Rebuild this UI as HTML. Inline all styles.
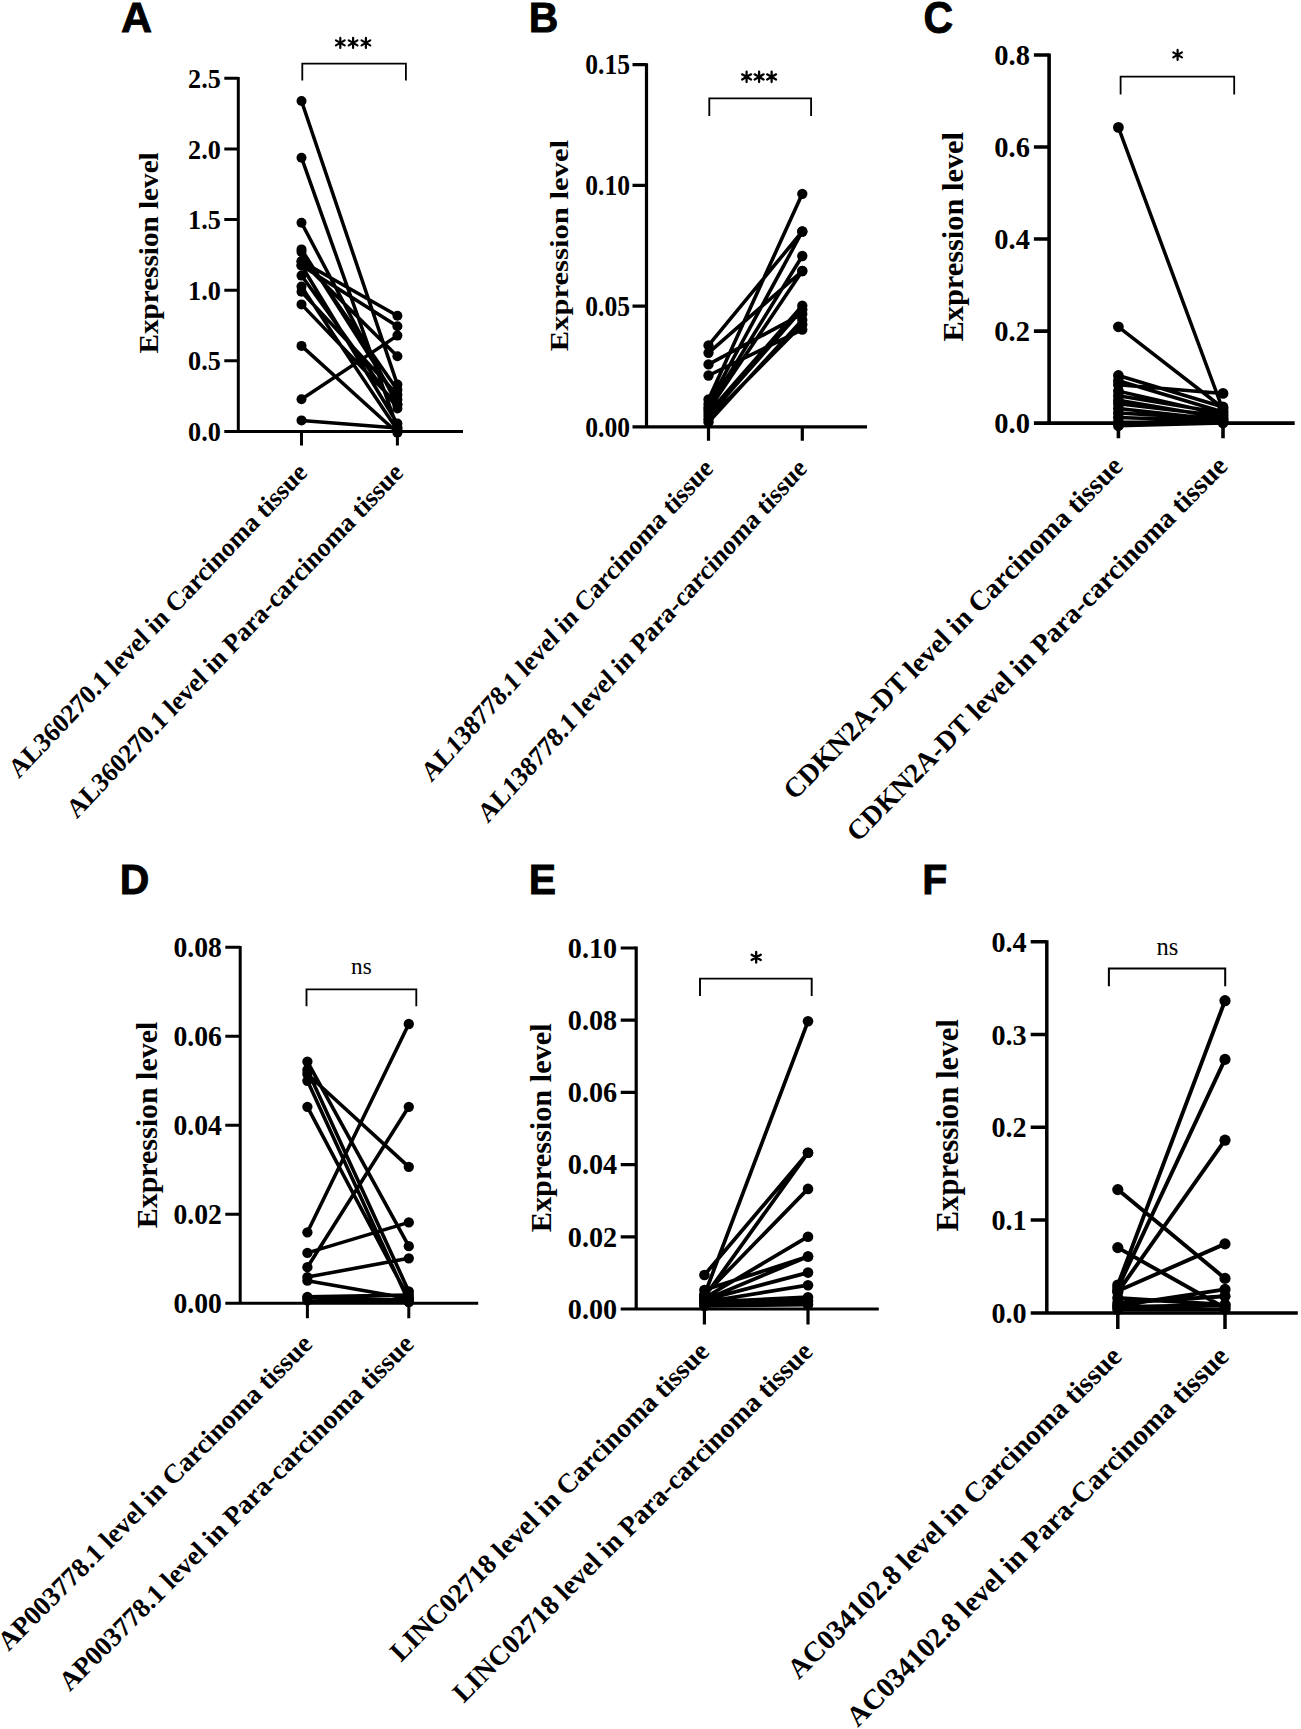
<!DOCTYPE html>
<html><head><meta charset="utf-8"><title>Expression level figure</title>
<style>html,body{margin:0;padding:0;background:#fff;}body{width:1301px;height:1729px;overflow:hidden;}svg{display:block;}</style>
</head><body><svg width="1301" height="1729" viewBox="0 0 1301 1729"><g><text transform="translate(121.00 31.50) scale(1.0500 1.0300)" font-family='"Liberation Sans", sans-serif' font-weight="bold" font-size="41" stroke="#000" stroke-width="0.8">A</text><path d="M238.3 77.00V431.5M224.3 431.5H463" stroke="#000" stroke-width="3.0" fill="none"/><text transform="translate(220.80 431.50) scale(1.0000 1.0800)" y="8.91" text-anchor="end" font-family='"Liberation Serif", serif' font-weight="bold" font-size="26.2" stroke="#000" stroke-width="0.0">0.0</text><text transform="translate(220.80 360.86) scale(1.0000 1.0800)" y="8.91" text-anchor="end" font-family='"Liberation Serif", serif' font-weight="bold" font-size="26.2" stroke="#000" stroke-width="0.0">0.5</text><text transform="translate(220.80 290.22) scale(1.0000 1.0800)" y="8.91" text-anchor="end" font-family='"Liberation Serif", serif' font-weight="bold" font-size="26.2" stroke="#000" stroke-width="0.0">1.0</text><text transform="translate(220.80 219.58) scale(1.0000 1.0800)" y="8.91" text-anchor="end" font-family='"Liberation Serif", serif' font-weight="bold" font-size="26.2" stroke="#000" stroke-width="0.0">1.5</text><text transform="translate(220.80 148.94) scale(1.0000 1.0800)" y="8.91" text-anchor="end" font-family='"Liberation Serif", serif' font-weight="bold" font-size="26.2" stroke="#000" stroke-width="0.0">2.0</text><text transform="translate(220.80 78.30) scale(1.0000 1.0800)" y="8.91" text-anchor="end" font-family='"Liberation Serif", serif' font-weight="bold" font-size="26.2" stroke="#000" stroke-width="0.0">2.5</text><path d="M224.3 360.86H238.3M224.3 290.22H238.3M224.3 219.58H238.3M224.3 148.94H238.3M224.3 78.30H238.3M301.5 431.5V445.5M397.4 431.5V445.5" stroke="#000" stroke-width="3.0" fill="none"/><text transform="translate(149.30 252.90) scale(1.0000 1.0930) rotate(-90)" y="8.81" text-anchor="middle" font-family='"Liberation Serif", serif' font-weight="bold" font-size="26.7" stroke="#000" stroke-width="0.0">Expression level</text><path d="M302.3 80.6V63.7H405.9V80.6" stroke="#000" stroke-width="1.80" fill="none"/><path d="M340.30 37.90L340.30 47.90M335.97 40.40L344.63 45.40M344.63 40.40L335.97 45.40" stroke="#000" stroke-width="2.2" stroke-linecap="round" fill="none"/><path d="M353.10 37.90L353.10 47.90M348.77 40.40L357.43 45.40M357.43 40.40L348.77 45.40" stroke="#000" stroke-width="2.2" stroke-linecap="round" fill="none"/><path d="M365.90 37.90L365.90 47.90M361.57 40.40L370.23 45.40M370.23 40.40L361.57 45.40" stroke="#000" stroke-width="2.2" stroke-linecap="round" fill="none"/><path d="M301.5 101.0L397.4 384.6M301.5 157.7L397.4 427.9M301.5 222.7L397.4 404.5M301.5 249.4L397.4 399.6M301.5 252L397.4 389.9M301.5 261.3L397.4 356.3M301.5 261.3L397.4 315.8M301.5 265.5L397.4 326.3M301.5 265.5L397.4 423.5M301.5 275.6L397.4 408.5M301.5 286.6L397.4 430M301.5 291.7L397.4 394.7M301.5 304.4L397.4 404.5M301.5 345.9L397.4 432.8M301.5 399.2L397.4 335.6M301.5 420.4L397.4 427.9" stroke="#000" stroke-width="3.50" fill="none"/><g fill="#000"><circle cx="301.5" cy="101.0" r="5.00"/><circle cx="397.4" cy="384.6" r="5.00"/><circle cx="301.5" cy="157.7" r="5.00"/><circle cx="397.4" cy="427.9" r="5.00"/><circle cx="301.5" cy="222.7" r="5.00"/><circle cx="397.4" cy="404.5" r="5.00"/><circle cx="301.5" cy="249.4" r="5.00"/><circle cx="397.4" cy="399.6" r="5.00"/><circle cx="301.5" cy="252" r="5.00"/><circle cx="397.4" cy="389.9" r="5.00"/><circle cx="301.5" cy="261.3" r="5.00"/><circle cx="397.4" cy="356.3" r="5.00"/><circle cx="301.5" cy="261.3" r="5.00"/><circle cx="397.4" cy="315.8" r="5.00"/><circle cx="301.5" cy="265.5" r="5.00"/><circle cx="397.4" cy="326.3" r="5.00"/><circle cx="301.5" cy="265.5" r="5.00"/><circle cx="397.4" cy="423.5" r="5.00"/><circle cx="301.5" cy="275.6" r="5.00"/><circle cx="397.4" cy="408.5" r="5.00"/><circle cx="301.5" cy="286.6" r="5.00"/><circle cx="397.4" cy="430" r="5.00"/><circle cx="301.5" cy="291.7" r="5.00"/><circle cx="397.4" cy="394.7" r="5.00"/><circle cx="301.5" cy="304.4" r="5.00"/><circle cx="397.4" cy="404.5" r="5.00"/><circle cx="301.5" cy="345.9" r="5.00"/><circle cx="397.4" cy="432.8" r="5.00"/><circle cx="301.5" cy="399.2" r="5.00"/><circle cx="397.4" cy="335.6" r="5.00"/><circle cx="301.5" cy="420.4" r="5.00"/><circle cx="397.4" cy="427.9" r="5.00"/></g><text transform="translate(308.60 474.00) scale(1.0090 1.0630) rotate(-45)" text-anchor="end" font-family='"Liberation Serif", serif' font-weight="bold" font-size="25.3" fill="#000" stroke="#000" stroke-width="0.0">AL360270.1 level in Carcinoma tissue</text><text transform="translate(404.50 474.00) scale(1.0090 1.0630) rotate(-45)" text-anchor="end" font-family='"Liberation Serif", serif' font-weight="bold" font-size="25.3" fill="#000" stroke="#000" stroke-width="0.0">AL360270.1 level in Para-carcinoma tissue</text></g><g><text transform="translate(528.80 32.00) scale(1.0000 1.0300)" font-family='"Liberation Sans", sans-serif' font-weight="bold" font-size="41" stroke="#000" stroke-width="0.8">B</text><path d="M646.5 63.20V426.8M632.5 426.8H867.0" stroke="#000" stroke-width="3.2" fill="none"/><text transform="translate(630.00 426.80) scale(0.9770 1.1070)" y="8.91" text-anchor="end" font-family='"Liberation Serif", serif' font-weight="bold" font-size="26.2" stroke="#000" stroke-width="0.0">0.00</text><text transform="translate(630.00 306.07) scale(0.9770 1.1070)" y="8.91" text-anchor="end" font-family='"Liberation Serif", serif' font-weight="bold" font-size="26.2" stroke="#000" stroke-width="0.0">0.05</text><text transform="translate(630.00 185.33) scale(0.9770 1.1070)" y="8.91" text-anchor="end" font-family='"Liberation Serif", serif' font-weight="bold" font-size="26.2" stroke="#000" stroke-width="0.0">0.10</text><text transform="translate(630.00 64.60) scale(0.9770 1.1070)" y="8.91" text-anchor="end" font-family='"Liberation Serif", serif' font-weight="bold" font-size="26.2" stroke="#000" stroke-width="0.0">0.15</text><path d="M632.5 306.07H646.5M632.5 185.33H646.5M632.5 64.60H646.5M708.5 426.8V440.8M802.3 426.8V440.8" stroke="#000" stroke-width="3.2" fill="none"/><text transform="translate(559.20 245.65) scale(0.9770 1.1480) rotate(-90)" y="8.81" text-anchor="middle" font-family='"Liberation Serif", serif' font-weight="bold" font-size="26.7" stroke="#000" stroke-width="0.0">Expression level</text><path d="M709.3 116.0V98.3H811.1V116.0" stroke="#000" stroke-width="1.85" fill="none"/><path d="M746.59 71.75L746.59 82.05M742.13 74.33L751.05 79.48M751.05 74.33L742.13 79.48" stroke="#000" stroke-width="2.2660000000000005" stroke-linecap="round" fill="none"/><path d="M759.10 71.75L759.10 82.05M754.64 74.33L763.56 79.48M763.56 74.33L754.64 79.48" stroke="#000" stroke-width="2.2660000000000005" stroke-linecap="round" fill="none"/><path d="M771.61 71.75L771.61 82.05M767.15 74.33L776.07 79.48M776.07 74.33L767.15 79.48" stroke="#000" stroke-width="2.2660000000000005" stroke-linecap="round" fill="none"/><path d="M708.5 345.4L802.3 231.5M708.5 352.8L802.3 271.0M708.5 364.4L802.3 313.9M708.5 375.5L802.3 329.7M708.5 399.5L802.3 193.8M708.5 404L802.3 231.5M708.5 407.5L802.3 256.0M708.5 410L802.3 271.0M708.5 413L802.3 305.6M708.5 416.1L802.3 309.4M708.5 419.2L802.3 324.4M708.5 422.2L802.3 319.9" stroke="#000" stroke-width="3.60" fill="none"/><g fill="#000"><circle cx="708.5" cy="345.4" r="5.15"/><circle cx="802.3" cy="231.5" r="5.15"/><circle cx="708.5" cy="352.8" r="5.15"/><circle cx="802.3" cy="271.0" r="5.15"/><circle cx="708.5" cy="364.4" r="5.15"/><circle cx="802.3" cy="313.9" r="5.15"/><circle cx="708.5" cy="375.5" r="5.15"/><circle cx="802.3" cy="329.7" r="5.15"/><circle cx="708.5" cy="399.5" r="5.15"/><circle cx="802.3" cy="193.8" r="5.15"/><circle cx="708.5" cy="404" r="5.15"/><circle cx="802.3" cy="231.5" r="5.15"/><circle cx="708.5" cy="407.5" r="5.15"/><circle cx="802.3" cy="256.0" r="5.15"/><circle cx="708.5" cy="410" r="5.15"/><circle cx="802.3" cy="271.0" r="5.15"/><circle cx="708.5" cy="413" r="5.15"/><circle cx="802.3" cy="305.6" r="5.15"/><circle cx="708.5" cy="416.1" r="5.15"/><circle cx="802.3" cy="309.4" r="5.15"/><circle cx="708.5" cy="419.2" r="5.15"/><circle cx="802.3" cy="324.4" r="5.15"/><circle cx="708.5" cy="422.2" r="5.15"/><circle cx="802.3" cy="319.9" r="5.15"/></g><text transform="translate(714.40 469.80) scale(0.9860 1.0900) rotate(-45)" text-anchor="end" font-family='"Liberation Serif", serif' font-weight="bold" font-size="25.3" fill="#000" stroke="#000" stroke-width="0.0">AL138778.1 level in Carcinoma tissue</text><text transform="translate(808.20 469.80) scale(0.9860 1.0900) rotate(-45)" text-anchor="end" font-family='"Liberation Serif", serif' font-weight="bold" font-size="25.3" fill="#000" stroke="#000" stroke-width="0.0">AL138778.1 level in Para-carcinoma tissue</text></g><g><text transform="translate(923.60 32.80) scale(1.0000 1.0800)" font-family='"Liberation Sans", sans-serif' font-weight="bold" font-size="41" stroke="#000" stroke-width="0.8">C</text><path d="M1049.1 53.40V423.1M1033.8999999999999 423.1H1294.7" stroke="#000" stroke-width="3.6" fill="none"/><text transform="translate(1029.90 423.10) scale(1.0880 1.1275)" y="8.91" text-anchor="end" font-family='"Liberation Serif", serif' font-weight="bold" font-size="26.2" stroke="#000" stroke-width="0.0">0.0</text><text transform="translate(1029.90 331.08) scale(1.0880 1.1275)" y="8.91" text-anchor="end" font-family='"Liberation Serif", serif' font-weight="bold" font-size="26.2" stroke="#000" stroke-width="0.0">0.2</text><text transform="translate(1029.90 239.05) scale(1.0880 1.1275)" y="8.91" text-anchor="end" font-family='"Liberation Serif", serif' font-weight="bold" font-size="26.2" stroke="#000" stroke-width="0.0">0.4</text><text transform="translate(1029.90 147.02) scale(1.0880 1.1275)" y="8.91" text-anchor="end" font-family='"Liberation Serif", serif' font-weight="bold" font-size="26.2" stroke="#000" stroke-width="0.0">0.6</text><text transform="translate(1029.90 55.00) scale(1.0880 1.1275)" y="8.91" text-anchor="end" font-family='"Liberation Serif", serif' font-weight="bold" font-size="26.2" stroke="#000" stroke-width="0.0">0.8</text><path d="M1033.8999999999999 331.08H1049.1M1033.8999999999999 239.05H1049.1M1033.8999999999999 147.02H1049.1M1033.8999999999999 55.00H1049.1M1118.4 423.1V438.3M1223.0 423.1V438.3" stroke="#000" stroke-width="3.6" fill="none"/><text transform="translate(953.00 236.80) scale(1.0880 1.1380) rotate(-90)" y="8.81" text-anchor="middle" font-family='"Liberation Serif", serif' font-weight="bold" font-size="26.7" stroke="#000" stroke-width="0.0">Expression level</text><path d="M1120.6 94.6V76.7H1234.2V94.6" stroke="#000" stroke-width="1.80" fill="none"/><path d="M1177.60 49.90L1177.60 59.90M1173.27 52.40L1181.93 57.40M1181.93 52.40L1173.27 57.40" stroke="#000" stroke-width="2.2" stroke-linecap="round" fill="none"/><path d="M1118.4 127.4L1223.0 410M1118.4 326.8L1223.0 408M1118.4 375.5L1223.0 407M1118.4 384.7L1223.0 393.4M1118.4 380.7L1223.0 412M1118.4 391.1L1223.0 415M1118.4 395.7L1223.0 413M1118.4 400.3L1223.0 418M1118.4 403.8L1223.0 416M1118.4 408.4L1223.0 420M1118.4 413L1223.0 419M1118.4 417.6L1223.0 421M1118.4 422.2L1223.0 422M1118.4 425.7L1223.0 423" stroke="#000" stroke-width="3.50" fill="none"/><g fill="#000"><circle cx="1118.4" cy="127.4" r="5.40"/><circle cx="1223.0" cy="410" r="5.40"/><circle cx="1118.4" cy="326.8" r="5.40"/><circle cx="1223.0" cy="408" r="5.40"/><circle cx="1118.4" cy="375.5" r="5.40"/><circle cx="1223.0" cy="407" r="5.40"/><circle cx="1118.4" cy="384.7" r="5.40"/><circle cx="1223.0" cy="393.4" r="5.40"/><circle cx="1118.4" cy="380.7" r="5.40"/><circle cx="1223.0" cy="412" r="5.40"/><circle cx="1118.4" cy="391.1" r="5.40"/><circle cx="1223.0" cy="415" r="5.40"/><circle cx="1118.4" cy="395.7" r="5.40"/><circle cx="1223.0" cy="413" r="5.40"/><circle cx="1118.4" cy="400.3" r="5.40"/><circle cx="1223.0" cy="418" r="5.40"/><circle cx="1118.4" cy="403.8" r="5.40"/><circle cx="1223.0" cy="416" r="5.40"/><circle cx="1118.4" cy="408.4" r="5.40"/><circle cx="1223.0" cy="420" r="5.40"/><circle cx="1118.4" cy="413" r="5.40"/><circle cx="1223.0" cy="419" r="5.40"/><circle cx="1118.4" cy="417.6" r="5.40"/><circle cx="1223.0" cy="421" r="5.40"/><circle cx="1118.4" cy="422.2" r="5.40"/><circle cx="1223.0" cy="422" r="5.40"/><circle cx="1118.4" cy="425.7" r="5.40"/><circle cx="1223.0" cy="423" r="5.40"/></g><text transform="translate(1124.30 467.60) scale(1.0980 1.1100) rotate(-45)" text-anchor="end" font-family='"Liberation Serif", serif' font-weight="bold" font-size="25.3" fill="#000" stroke="#000" stroke-width="0.0">CDKN2A-DT level in Carcinoma tissue</text><text transform="translate(1228.90 467.60) scale(1.0980 1.1100) rotate(-45)" text-anchor="end" font-family='"Liberation Serif", serif' font-weight="bold" font-size="25.3" fill="#000" stroke="#000" stroke-width="0.0">CDKN2A-DT level in Para-carcinoma tissue</text></g><g><text transform="translate(119.80 894.30) scale(1.0000 1.0300)" font-family='"Liberation Sans", sans-serif' font-weight="bold" font-size="41" stroke="#000" stroke-width="0.8">D</text><path d="M240.2 946.00V1303.3M225.29999999999998 1303.3H478.2" stroke="#000" stroke-width="3.0" fill="none"/><text transform="translate(221.80 1303.30) scale(1.0560 1.0876)" y="8.91" text-anchor="end" font-family='"Liberation Serif", serif' font-weight="bold" font-size="26.2" stroke="#000" stroke-width="0.0">0.00</text><text transform="translate(221.80 1214.30) scale(1.0560 1.0876)" y="8.91" text-anchor="end" font-family='"Liberation Serif", serif' font-weight="bold" font-size="26.2" stroke="#000" stroke-width="0.0">0.02</text><text transform="translate(221.80 1125.30) scale(1.0560 1.0876)" y="8.91" text-anchor="end" font-family='"Liberation Serif", serif' font-weight="bold" font-size="26.2" stroke="#000" stroke-width="0.0">0.04</text><text transform="translate(221.80 1036.30) scale(1.0560 1.0876)" y="8.91" text-anchor="end" font-family='"Liberation Serif", serif' font-weight="bold" font-size="26.2" stroke="#000" stroke-width="0.0">0.06</text><text transform="translate(221.80 947.30) scale(1.0560 1.0876)" y="8.91" text-anchor="end" font-family='"Liberation Serif", serif' font-weight="bold" font-size="26.2" stroke="#000" stroke-width="0.0">0.08</text><path d="M225.29999999999998 1214.30H240.2M225.29999999999998 1125.30H240.2M225.29999999999998 1036.30H240.2M225.29999999999998 947.30H240.2M307.4 1303.3V1318.2M408.8 1303.3V1318.2" stroke="#000" stroke-width="3.0" fill="none"/><text transform="translate(147.00 1125.00) scale(1.1150 1.1220) rotate(-90)" y="8.81" text-anchor="middle" font-family='"Liberation Serif", serif' font-weight="bold" font-size="26.7" stroke="#000" stroke-width="0.0">Expression level</text><path d="M306.5 1006.3V989.3H416.3V1006.3" stroke="#000" stroke-width="1.85" fill="none"/><text transform="translate(361.40 974.00) scale(1.0560 1.0876)" text-anchor="middle" font-family='"Liberation Serif", serif' font-size="22">ns</text><path d="M307.4 1061.6L408.8 1246.2M307.4 1070L408.8 1291.4M307.4 1074L408.8 1166.8M307.4 1080.8L408.8 1301.8M307.4 1106.8L408.8 1298.6M307.4 1232.3L408.8 1024.0M307.4 1252.9L408.8 1222.4M307.4 1267.2L408.8 1106.8M307.4 1277.1L408.8 1258.3M307.4 1280.7L408.8 1298.6M307.4 1296.8L408.8 1295M307.4 1300.4L408.8 1302M307.4 1298L408.8 1300" stroke="#000" stroke-width="3.60" fill="none"/><g fill="#000"><circle cx="307.4" cy="1061.6" r="5.15"/><circle cx="408.8" cy="1246.2" r="5.15"/><circle cx="307.4" cy="1070" r="5.15"/><circle cx="408.8" cy="1291.4" r="5.15"/><circle cx="307.4" cy="1074" r="5.15"/><circle cx="408.8" cy="1166.8" r="5.15"/><circle cx="307.4" cy="1080.8" r="5.15"/><circle cx="408.8" cy="1301.8" r="5.15"/><circle cx="307.4" cy="1106.8" r="5.15"/><circle cx="408.8" cy="1298.6" r="5.15"/><circle cx="307.4" cy="1232.3" r="5.15"/><circle cx="408.8" cy="1024.0" r="5.15"/><circle cx="307.4" cy="1252.9" r="5.15"/><circle cx="408.8" cy="1222.4" r="5.15"/><circle cx="307.4" cy="1267.2" r="5.15"/><circle cx="408.8" cy="1106.8" r="5.15"/><circle cx="307.4" cy="1277.1" r="5.15"/><circle cx="408.8" cy="1258.3" r="5.15"/><circle cx="307.4" cy="1280.7" r="5.15"/><circle cx="408.8" cy="1298.6" r="5.15"/><circle cx="307.4" cy="1296.8" r="5.15"/><circle cx="408.8" cy="1295" r="5.15"/><circle cx="307.4" cy="1300.4" r="5.15"/><circle cx="408.8" cy="1302" r="5.15"/><circle cx="307.4" cy="1298" r="5.15"/><circle cx="408.8" cy="1300" r="5.15"/></g><text transform="translate(313.80 1345.60) scale(1.0660 1.0700) rotate(-45)" text-anchor="end" font-family='"Liberation Serif", serif' font-weight="bold" font-size="25.3" fill="#000" stroke="#000" stroke-width="0.0">AP003778.1 level in Carcinoma tissue</text><text transform="translate(415.20 1345.60) scale(1.0660 1.0700) rotate(-45)" text-anchor="end" font-family='"Liberation Serif", serif' font-weight="bold" font-size="25.3" fill="#000" stroke="#000" stroke-width="0.0">AP003778.1 level in Para-carcinoma tissue</text></g><g><text transform="translate(528.70 894.30) scale(1.0000 1.0300)" font-family='"Liberation Sans", sans-serif' font-weight="bold" font-size="41" stroke="#000" stroke-width="0.8">E</text><path d="M636.2 946.60V1309.0M620.7 1309.0H878.8" stroke="#000" stroke-width="3.2" fill="none"/><text transform="translate(617.20 1309.00) scale(1.0770 1.1059)" y="8.91" text-anchor="end" font-family='"Liberation Serif", serif' font-weight="bold" font-size="26.2" stroke="#000" stroke-width="0.0">0.00</text><text transform="translate(617.20 1236.80) scale(1.0770 1.1059)" y="8.91" text-anchor="end" font-family='"Liberation Serif", serif' font-weight="bold" font-size="26.2" stroke="#000" stroke-width="0.0">0.02</text><text transform="translate(617.20 1164.60) scale(1.0770 1.1059)" y="8.91" text-anchor="end" font-family='"Liberation Serif", serif' font-weight="bold" font-size="26.2" stroke="#000" stroke-width="0.0">0.04</text><text transform="translate(617.20 1092.40) scale(1.0770 1.1059)" y="8.91" text-anchor="end" font-family='"Liberation Serif", serif' font-weight="bold" font-size="26.2" stroke="#000" stroke-width="0.0">0.06</text><text transform="translate(617.20 1020.20) scale(1.0770 1.1059)" y="8.91" text-anchor="end" font-family='"Liberation Serif", serif' font-weight="bold" font-size="26.2" stroke="#000" stroke-width="0.0">0.08</text><text transform="translate(617.20 948.00) scale(1.0770 1.1059)" y="8.91" text-anchor="end" font-family='"Liberation Serif", serif' font-weight="bold" font-size="26.2" stroke="#000" stroke-width="0.0">0.10</text><path d="M620.7 1236.80H636.2M620.7 1164.60H636.2M620.7 1092.40H636.2M620.7 1020.20H636.2M620.7 948.00H636.2M704.4 1309.0V1324.5M808.0 1309.0V1324.5" stroke="#000" stroke-width="3.2" fill="none"/><text transform="translate(540.90 1127.85) scale(1.1090 1.1340) rotate(-90)" y="8.81" text-anchor="middle" font-family='"Liberation Serif", serif' font-weight="bold" font-size="26.7" stroke="#000" stroke-width="0.0">Expression level</text><path d="M700.0 996.0V978.6H811.7V996.0" stroke="#000" stroke-width="1.91" fill="none"/><path d="M756.20 952.00L756.20 962.60M751.61 954.65L760.79 959.95M760.79 954.65L751.61 959.95" stroke="#000" stroke-width="2.3320000000000003" stroke-linecap="round" fill="none"/><path d="M704.4 1275.0L808.0 1152.8M704.4 1295L808.0 1021.3M704.4 1297L808.0 1152.8M704.4 1295L808.0 1188.9M704.4 1298L808.0 1236.7M704.4 1290L808.0 1256.5M704.4 1300L808.0 1256.5M704.4 1300L808.0 1272.6M704.4 1302L808.0 1285.2M704.4 1302L808.0 1297.2M704.4 1305L808.0 1300.9M704.4 1306L808.0 1304.6" stroke="#000" stroke-width="3.71" fill="none"/><g fill="#000"><circle cx="704.4" cy="1275.0" r="5.30"/><circle cx="808.0" cy="1152.8" r="5.30"/><circle cx="704.4" cy="1295" r="5.30"/><circle cx="808.0" cy="1021.3" r="5.30"/><circle cx="704.4" cy="1297" r="5.30"/><circle cx="808.0" cy="1152.8" r="5.30"/><circle cx="704.4" cy="1295" r="5.30"/><circle cx="808.0" cy="1188.9" r="5.30"/><circle cx="704.4" cy="1298" r="5.30"/><circle cx="808.0" cy="1236.7" r="5.30"/><circle cx="704.4" cy="1290" r="5.30"/><circle cx="808.0" cy="1256.5" r="5.30"/><circle cx="704.4" cy="1300" r="5.30"/><circle cx="808.0" cy="1256.5" r="5.30"/><circle cx="704.4" cy="1300" r="5.30"/><circle cx="808.0" cy="1272.6" r="5.30"/><circle cx="704.4" cy="1302" r="5.30"/><circle cx="808.0" cy="1285.2" r="5.30"/><circle cx="704.4" cy="1302" r="5.30"/><circle cx="808.0" cy="1297.2" r="5.30"/><circle cx="704.4" cy="1305" r="5.30"/><circle cx="808.0" cy="1300.9" r="5.30"/><circle cx="704.4" cy="1306" r="5.30"/><circle cx="808.0" cy="1304.6" r="5.30"/></g><text transform="translate(710.60 1353.00) scale(1.0870 1.0880) rotate(-45)" text-anchor="end" font-family='"Liberation Serif", serif' font-weight="bold" font-size="25.3" fill="#000" stroke="#000" stroke-width="0.0">LINC02718 level in Carcinoma tissue</text><text transform="translate(814.20 1353.00) scale(1.0870 1.0880) rotate(-45)" text-anchor="end" font-family='"Liberation Serif", serif' font-weight="bold" font-size="25.3" fill="#000" stroke="#000" stroke-width="0.0">LINC02718 level in Para-carcinoma tissue</text></g><g><text transform="translate(922.30 894.30) scale(1.0000 1.0300)" font-family='"Liberation Sans", sans-serif' font-weight="bold" font-size="41" stroke="#000" stroke-width="0.8">F</text><path d="M1046.8 940.15V1312.9M1030.7 1312.9H1297.8" stroke="#000" stroke-width="3.5" fill="none"/><text transform="translate(1026.70 1312.90) scale(1.0760 1.1351)" y="8.91" text-anchor="end" font-family='"Liberation Serif", serif' font-weight="bold" font-size="26.2" stroke="#000" stroke-width="0.0">0.0</text><text transform="translate(1026.70 1220.10) scale(1.0760 1.1351)" y="8.91" text-anchor="end" font-family='"Liberation Serif", serif' font-weight="bold" font-size="26.2" stroke="#000" stroke-width="0.0">0.1</text><text transform="translate(1026.70 1127.30) scale(1.0760 1.1351)" y="8.91" text-anchor="end" font-family='"Liberation Serif", serif' font-weight="bold" font-size="26.2" stroke="#000" stroke-width="0.0">0.2</text><text transform="translate(1026.70 1034.50) scale(1.0760 1.1351)" y="8.91" text-anchor="end" font-family='"Liberation Serif", serif' font-weight="bold" font-size="26.2" stroke="#000" stroke-width="0.0">0.3</text><text transform="translate(1026.70 941.70) scale(1.0760 1.1351)" y="8.91" text-anchor="end" font-family='"Liberation Serif", serif' font-weight="bold" font-size="26.2" stroke="#000" stroke-width="0.0">0.4</text><path d="M1030.7 1220.10H1046.8M1030.7 1127.30H1046.8M1030.7 1034.50H1046.8M1030.7 941.70H1046.8M1117.8 1312.9V1329.0M1225.0 1312.9V1329.0" stroke="#000" stroke-width="3.5" fill="none"/><text transform="translate(948.00 1125.30) scale(1.1710 1.1540) rotate(-90)" y="8.81" text-anchor="middle" font-family='"Liberation Serif", serif' font-weight="bold" font-size="26.7" stroke="#000" stroke-width="0.0">Expression level</text><path d="M1108.9 986.2V968.6H1225.2V986.2" stroke="#000" stroke-width="2.02" fill="none"/><text transform="translate(1167.50 954.50) scale(1.1150 1.1351)" text-anchor="middle" font-family='"Liberation Serif", serif' font-size="22">ns</text><path d="M1117.8 1189.6L1225.0 1278.4M1117.8 1247.6L1225.0 1308.0M1117.8 1285.0L1225.0 1000.7M1117.8 1288L1225.0 1059.4M1117.8 1292L1225.0 1140.2M1117.8 1291L1225.0 1243.9M1117.8 1298L1225.0 1304.7M1117.8 1305.7L1225.0 1289.4M1117.8 1303L1225.0 1296.2M1117.8 1309.5L1225.0 1309.5M1117.8 1307L1225.0 1305" stroke="#000" stroke-width="3.92" fill="none"/><g fill="#000"><circle cx="1117.8" cy="1189.6" r="5.60"/><circle cx="1225.0" cy="1278.4" r="5.60"/><circle cx="1117.8" cy="1247.6" r="5.60"/><circle cx="1225.0" cy="1308.0" r="5.60"/><circle cx="1117.8" cy="1285.0" r="5.60"/><circle cx="1225.0" cy="1000.7" r="5.60"/><circle cx="1117.8" cy="1288" r="5.60"/><circle cx="1225.0" cy="1059.4" r="5.60"/><circle cx="1117.8" cy="1292" r="5.60"/><circle cx="1225.0" cy="1140.2" r="5.60"/><circle cx="1117.8" cy="1291" r="5.60"/><circle cx="1225.0" cy="1243.9" r="5.60"/><circle cx="1117.8" cy="1298" r="5.60"/><circle cx="1225.0" cy="1304.7" r="5.60"/><circle cx="1117.8" cy="1305.7" r="5.60"/><circle cx="1225.0" cy="1289.4" r="5.60"/><circle cx="1117.8" cy="1303" r="5.60"/><circle cx="1225.0" cy="1296.2" r="5.60"/><circle cx="1117.8" cy="1309.5" r="5.60"/><circle cx="1225.0" cy="1309.5" r="5.60"/><circle cx="1117.8" cy="1307" r="5.60"/><circle cx="1225.0" cy="1305" r="5.60"/></g><text transform="translate(1123.10 1358.10) scale(1.1250 1.1170) rotate(-45)" text-anchor="end" font-family='"Liberation Serif", serif' font-weight="bold" font-size="25.3" fill="#000" stroke="#000" stroke-width="0.0">AC034102.8 level in Carcinoma tissue</text><text transform="translate(1230.30 1358.10) scale(1.1250 1.1170) rotate(-45)" text-anchor="end" font-family='"Liberation Serif", serif' font-weight="bold" font-size="25.3" fill="#000" stroke="#000" stroke-width="0.0">AC034102.8 level in Para-Carcinoma tissue</text></g></svg></body></html>
